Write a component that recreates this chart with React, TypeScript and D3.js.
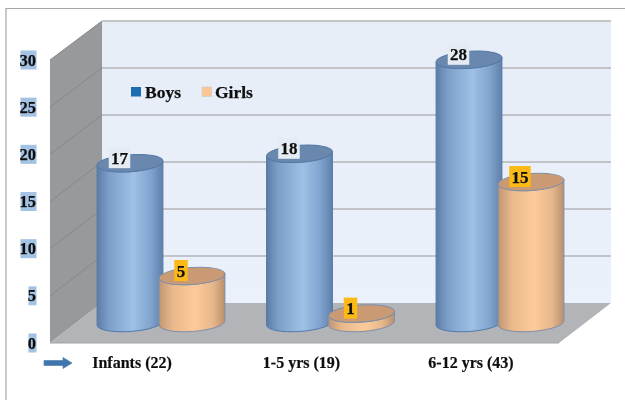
import React from "react";
import * as d3 from "d3";

const categories = ["Infants (22)", "1-5 yrs (19)", "6-12 yrs (43)"];
const boys = [17, 18, 28];
const girls = [5, 1, 15];
const yTicks = [0, 5, 10, 15, 20, 25, 30];
const legendItems = ["Boys", "Girls"];

const serif = "'Liberation Serif', serif";
const wallY = d3.scaleLinear().domain([0, 30]).range([303, 21]);
const frontY = d3.scaleLinear().domain([0, 30]).range([343, 60]);
const barY = d3.scaleLinear().domain([0, 30]).range([323, 41]);
const groupX = d3.scalePoint<string>().domain(categories).range([161, 500]);
const RX = 33;
const RY = 8.5;
const TILT = -4;

function Cylinder({ cx, value, grad, top, stroke }: { cx: number; value: number; grad: string; top: string; stroke: string }) {
  const yTop = barY(value);
  const yBase = barY(0);
  const t = (TILT * Math.PI) / 180;
  const dx = RX * Math.cos(t);
  const dy = RX * Math.sin(t);
  const body = d3.path();
  body.moveTo(cx - dx, yTop - dy);
  body.lineTo(cx - dx, yBase - dy);
  const d = `${body.toString()} A${RX} ${RY} ${TILT} 0 0 ${cx + dx} ${yBase + dy} L${cx + dx} ${yTop + dy} A${RX} ${RY} ${TILT} 0 1 ${cx - dx} ${yTop - dy} Z`;
  return (
    <g>
      <path d={d} fill={`url(#${grad})`} stroke={stroke} strokeWidth={1} />
      <ellipse cx={cx} cy={yTop} rx={RX} ry={RY} transform={`rotate(${TILT} ${cx} ${yTop})`} fill={top} stroke={stroke} strokeWidth={1} />
    </g>
  );
}

function ValueLabel({ x, y, value, fill }: { x: number; y: number; value: number; fill: string }) {
  const w = value >= 10 ? 21.5 : 13.5;
  return (
    <g>
      <rect x={x - w / 2} y={y - 10.5} width={w} height={21} fill={fill} />
      <text x={x} y={y + 6} textAnchor="middle" fontFamily={serif} fontWeight="bold" fontSize={17} fill="#111" stroke="#111" strokeWidth={0.25}>{value}</text>
    </g>
  );
}

export default function App() {
  const soft = "url(#soft)";
  return (
    <svg width={625} height={400} style={{ position: "absolute", left: 0, top: 0, background: "#fff" }}>
      <defs>
        <linearGradient id="blueBar" x1="0" x2="1" y1="0" y2="0">
          <stop offset="0" stopColor="#5c7da5" />
          <stop offset="0.18" stopColor="#7c9fca" />
          <stop offset="0.55" stopColor="#9fc1e5" />
          <stop offset="0.82" stopColor="#80a3ce" />
          <stop offset="1" stopColor="#5e80a9" />
        </linearGradient>
        <linearGradient id="orangeBar" x1="0" x2="1" y1="0" y2="0">
          <stop offset="0" stopColor="#c09672" />
          <stop offset="0.2" stopColor="#e8b88c" />
          <stop offset="0.55" stopColor="#fdcb9b" />
          <stop offset="0.82" stopColor="#e6b78b" />
          <stop offset="1" stopColor="#b98f6c" />
        </linearGradient>
        <linearGradient id="wall" x1="0" x2="0" y1="0" y2="1">
          <stop offset="0" stopColor="#e6edf6" />
          <stop offset="1" stopColor="#ebf1fb" />
        </linearGradient>
        <filter id="soft" x="-5%" y="-5%" width="110%" height="110%">
          <feGaussianBlur stdDeviation="0.45" />
        </filter>
      </defs>

      <g filter={soft}>
        <path d="M6 400V8.5H625" fill="none" stroke="#a6a6a6" strokeWidth={1.2} />

        <rect x={102} y={21} width={509} height={282} fill="url(#wall)" />
        <polygon points={`50,${frontY(30)} 102,${wallY(30)} 102,${wallY(0)} 50,${frontY(0)}`} fill="#97999c" />
        <polygon points={`50,${frontY(0)} 102,${wallY(0)} 611,${wallY(0)} 559,${frontY(0)}`} fill="#b2b4b7" />
        <line x1={50} x2={559} y1={343} y2={343} stroke="#a0a2a5" strokeWidth={1.2} />

        {yTicks.slice(1).map((t) => (
          <g key={t}>
            <line x1={102} x2={611} y1={wallY(t)} y2={wallY(t)} stroke="#b4b5b7" strokeWidth={1.3} />
            <line x1={50} x2={102} y1={frontY(t)} y2={wallY(t)} stroke="#86888b" strokeWidth={1} />
          </g>
        ))}

        {yTicks.map((t) => {
          const w = t >= 10 ? 16 : 8;
          return (
            <g key={t}>
              <rect x={36.5 - w} y={frontY(t) - 9.5} width={w} height={19} fill="#a3c2e4" />
              <text x={36} y={frontY(t) + 5.5} textAnchor="end" fontFamily={serif} fontWeight="bold" fontSize={16.5} fill="#111" stroke="#111" strokeWidth={0.25}>{t}</text>
            </g>
          );
        })}

        <rect x={131} y={87} width={10} height={9.5} fill="#1f6cb0" />
        <text x={145} y={98} fontFamily={serif} fontWeight="bold" fontSize={17.5} fill="#111" stroke="#111" strokeWidth={0.25}>{legendItems[0]}</text>
        <rect x={202} y={87} width={9.5} height={9.5} fill="#fcc596" stroke="#c9c9c9" strokeWidth={0.6} />
        <text x={215} y={98} fontFamily={serif} fontWeight="bold" fontSize={17.5} fill="#111" stroke="#111" strokeWidth={0.25}>{legendItems[1]}</text>

        {categories.map((c, i) => {
          const g = groupX(c)!;
          return (
            <g key={c}>
              <Cylinder cx={g - 31} value={boys[i]} grad="blueBar" top="#6b88ae" stroke="#5379a8" />
              <Cylinder cx={g + 31} value={girls[i]} grad="orangeBar" top="#c99a73" stroke="#7f8fa8" />
            </g>
          );
        })}
        {categories.map((c, i) => {
          const g = groupX(c)!;
          return (
            <g key={c}>
              <ValueLabel x={g - 41.5} y={barY(boys[i]) - 5.5} value={boys[i]} fill="#e4ebf3" />
              <ValueLabel x={g + 20} y={barY(girls[i]) - 5.5} value={girls[i]} fill="#fdb913" />
              <text x={g - 29} y={368} textAnchor="middle" fontFamily={serif} fontWeight="bold" fontSize={16} fill="#111" stroke="#111" strokeWidth={0.2}>{c}</text>
            </g>
          );
        })}

        <path d="M44 360.5H63V357.5L72 363L63 368.5V365.5H44Z" fill="#3f75ad" stroke="#5b86b5" strokeWidth={0.8} />
      </g>
    </svg>
  );
}
